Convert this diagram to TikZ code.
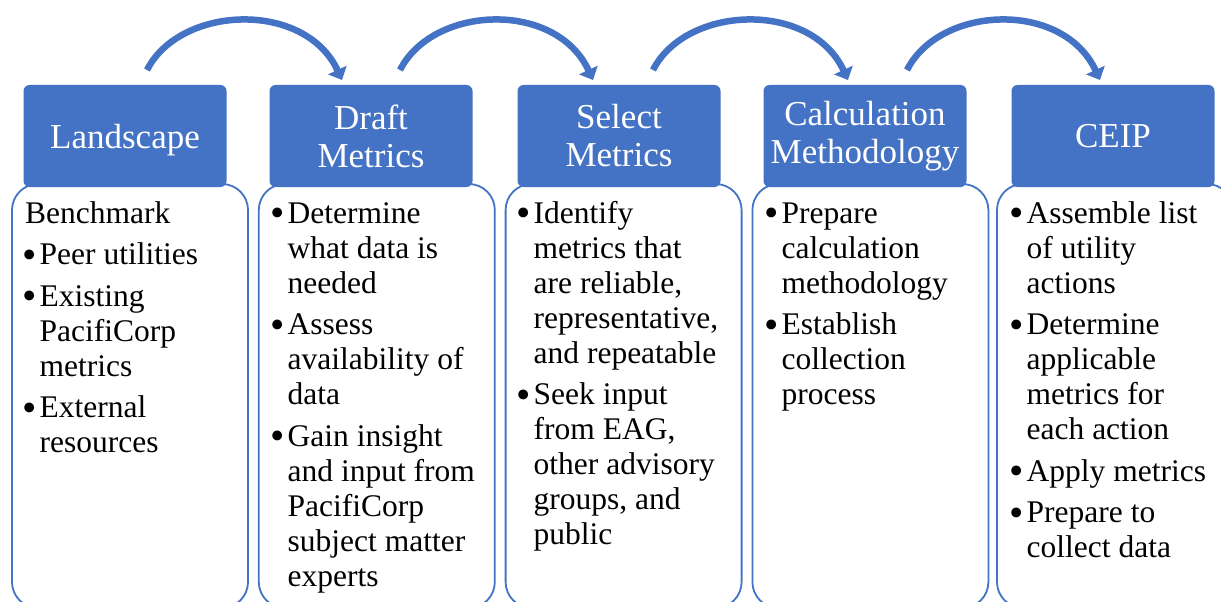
\documentclass[tikz,border=0pt]{standalone}
\usepackage{fontspec}
\setmainfont{Liberation Serif}
\usetikzlibrary{arrows.meta}
\definecolor{blu}{HTML}{4472C4}
\newcommand\bul[1]{\par\hangindent=14.5pt\hangafter=1\noindent\makebox[14.5pt][l]{\hspace{-2.5pt}\raisebox{-3.5pt}{\scalebox{1.3}{\textbullet}}}#1}
\newcommand\bodytext[1]{\parbox[t]{232pt}{\fontsize{31.5}{35}\selectfont\raggedright\parskip=6.5pt\relax #1}}
\tikzset{
  hdr/.style={fill=blu, draw=none, rounded corners=6pt, minimum width=203pt, minimum height=102pt,
    inner sep=0pt, text=white, align=center, font=\fontsize{35}{38}\selectfont},
  bodybox/.style={draw=blu, fill=white, line width=1.8pt, rounded corners=26pt,
    minimum width=236pt, minimum height=424pt, inner sep=0pt},
  btext/.style={anchor=base west, inner sep=0pt, text=black},
  flow/.style={draw=blu, line width=6.5pt, -{Triangle[length=11pt,width=20pt]}}
}
\begin{document}
\begin{tikzpicture}[x=1pt,y=-1pt]
\useasboundingbox (0,0) rectangle (1221,602);
\clip (0,0) rectangle (1221,602);
% body boxes
\node[bodybox] (b1) at (130,396) {};
\node[bodybox] (b2) at (376.8,396) {};
\node[bodybox] (b3) at (623.6,396) {};
\node[bodybox] (b4) at (870.4,396) {};
\node[bodybox] (b5) at (1115,396) {};
% headers
\node[hdr, text depth=0pt] (h1) at (125,136) {Landscape};
\node[hdr] (h2) at (371,136) {Draft\\Metrics};
\node[hdr] (h3) at (619,136) {Select\\Metrics};
\node[hdr] (h4) at (865,136) {Calculation\\Methodology};
\node[hdr] (h5) at (1113,136) {CEIP};
% body texts
\node[btext] (t1) at (25,223) {\bodytext{\noindent Benchmark
\bul{Peer utilities}
\bul{Existing\newline PacifiCorp\newline metrics}
\bul{External\newline resources}}};
\node[btext] (t2) at (273,223) {\bodytext{%
\bul{Determine\newline what data is\newline needed}
\bul{Assess\newline availability of\newline data}
\bul{Gain insight\newline and input from\newline PacifiCorp\newline subject matter\newline experts}}};
\node[btext] (t3) at (519,223) {\bodytext{%
\bul{Identify\newline metrics that\newline are reliable,\newline representative,\newline and repeatable}
\bul{Seek input\newline from EAG,\newline other advisory\newline groups, and\newline public}}};
\node[btext] (t4) at (767,223) {\bodytext{%
\bul{Prepare\newline calculation\newline methodology}
\bul{Establish\newline collection\newline process}}};
\node[btext] (t5) at (1012,223) {\bodytext{%
\bul{Assemble list\newline of utility\newline actions}
\bul{Determine\newline applicable\newline metrics for\newline each action}
\bul{Apply metrics}
\bul{Prepare to\newline collect data}}};
% arcs
\coordinate (s1) at (147,70);  \coordinate (e1) at (342,80);
\coordinate (s2) at (400,70);  \coordinate (e2) at (593,80);
\coordinate (s3) at (653,70);  \coordinate (e3) at (848,80);
\coordinate (s4) at (907,70);  \coordinate (e4) at (1100,80);
\foreach \i in {1,2,3,4}{
  \draw[flow] (s\i) .. controls +(33,-65) and +(-37,-80) .. (e\i);
}
\end{tikzpicture}
\end{document}
